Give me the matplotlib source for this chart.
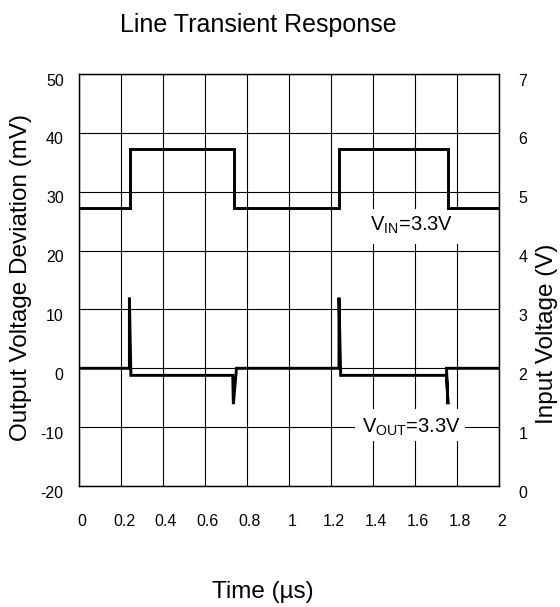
import matplotlib
matplotlib.use("Agg")
import matplotlib.pyplot as plt
import matplotlib.transforms as mtransforms
from matplotlib.patches import Rectangle

plt.rcParams['font.family'] = ['Liberation Sans', 'DejaVu Sans']
plt.rcParams['mathtext.fontset'] = 'custom'
plt.rcParams['mathtext.rm'] = 'Liberation Sans'
plt.rcParams['mathtext.it'] = 'Liberation Sans'
plt.rcParams['mathtext.bf'] = 'Liberation Sans'

# ---- data ----
time_in = [0.0, 0.243, 0.243, 0.738, 0.738, 1.238, 1.238, 1.757, 1.757, 2.0]
vin_v = [4.72, 4.72, 5.73, 5.73, 4.72, 4.72, 5.73, 5.73, 4.72, 4.72]

time_out = [0.0, 0.240, 0.240, 0.247, 0.732, 0.735, 0.750,
            1.238, 1.238, 1.246, 1.750, 1.757, 1.750, 2.0]
vout_mv = [0.0, 0.0, 12.0, -1.2, -1.2, -6.1, 0.0,
           0.0, 12.0, -1.2, -1.2, -6.1, 0.0, 0.0]

x_ticks = [0, 0.2, 0.4, 0.6, 0.8, 1.0, 1.2, 1.4, 1.6, 1.8, 2.0]
x_labels = ['0', '0.2', '0.4', '0.6', '0.8', '1', '1.2', '1.4', '1.6', '1.8', '2']
left_ticks = [-20, -10, 0, 10, 20, 30, 40, 50]
right_ticks = [0, 1, 2, 3, 4, 5, 6, 7]

W, H = 560, 607
fig = plt.figure(figsize=(W / 100, H / 100), dpi=100)
ax = fig.add_axes([79 / W, 1 - 486 / H, 420 / W, 412 / H])
ax2 = ax.twinx()

ax.set_xlim(0, 2)
ax.set_ylim(-20, 50)
ax2.set_ylim(0, 7)

ax.set_xticks(x_ticks)
ax.set_xticklabels(x_labels)
ax.set_yticks(left_ticks)
ax.set_yticklabels([str(v) for v in left_ticks])
ax2.set_yticks(right_ticks)
ax2.set_yticklabels([str(v) for v in right_ticks])

ax.tick_params(axis='x', length=0, pad=20, labelsize=11.5)
ax.tick_params(axis='y', length=0, pad=11, labelsize=11.5)
ax2.tick_params(axis='y', length=0, pad=14, labelsize=11.5)

down = mtransforms.ScaledTranslation(0, -5.5 / 100, fig.dpi_scale_trans)
right = mtransforms.ScaledTranslation(3 / 100, 0, fig.dpi_scale_trans)
for lab in ax.get_yticklabels() + ax2.get_yticklabels():
    lab.set_transform(lab.get_transform() + down)
for lab in ax.get_xticklabels():
    lab.set_transform(lab.get_transform() + right)

ax.set_axisbelow(True)
ax.grid(True, color='black', linewidth=0.8)
for a in (ax, ax2):
    for s in a.spines.values():
        s.set_color('black')
        s.set_linewidth(0.9)

# label backgrounds
ax.add_patch(Rectangle((1.267, 21.2), 0.595, 5.8, facecolor='white',
                       edgecolor='none', zorder=1))
ax.add_patch(Rectangle((1.314, -12.4), 0.524, 5.4, facecolor='white',
                       edgecolor='none', zorder=1))

ax.plot(time_out, vout_mv, color='black', linewidth=2.1, zorder=3,
        solid_joinstyle='miter')
ax2.plot(time_in, vin_v, color='black', linewidth=2.1, zorder=3,
         solid_joinstyle='miter')

ax.text(1.384, 23.3, r'V$_{\mathrm{IN}}$=3.3V', fontsize=14.5,
        ha='left', va='baseline', zorder=4)
ax.text(1.348, -10.9, r'V$_{\mathrm{OUT}}$=3.3V', fontsize=14.5,
        ha='left', va='baseline', zorder=4)

fig.text(120 / W, 1 - 32 / H, 'Line Transient Response', fontsize=18,
         ha='left', va='baseline')
fig.text(212 / W, 1 - 598 / H, 'Time (µs)', fontsize=17.5,
         ha='left', va='baseline')
fig.text(21.5 / W, 1 - 278 / H, 'Output Voltage Deviation (mV)', fontsize=17.5,
         rotation=90, ha='center', va='center')
fig.text(547 / W, 1 - 334 / H, 'Input Voltage (V)', fontsize=17.5,
         rotation=90, ha='center', va='center')

fig.savefig('out.png', dpi=100)
